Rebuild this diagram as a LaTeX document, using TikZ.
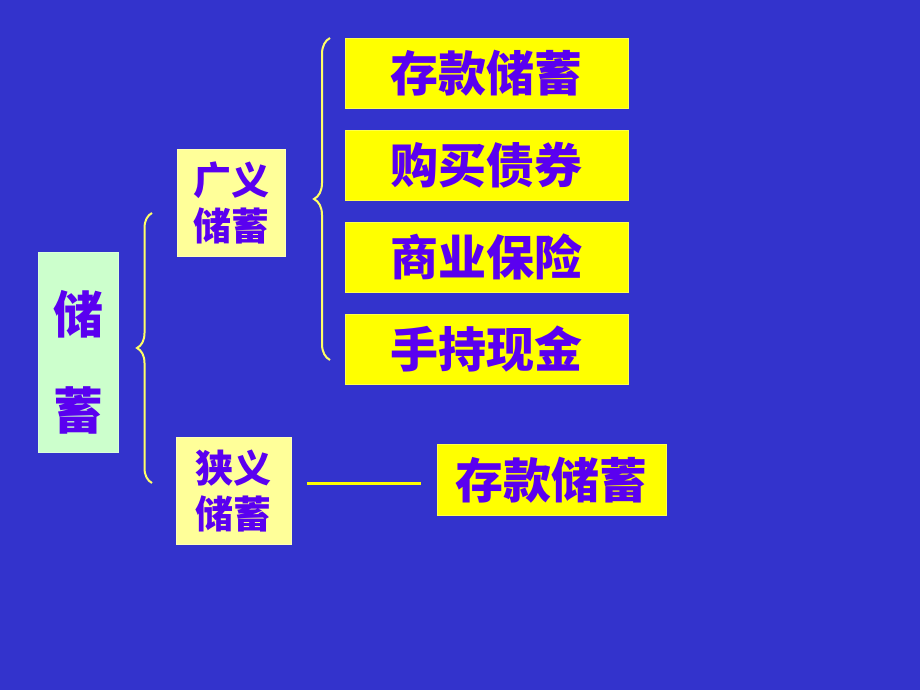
\documentclass[tikz,border=0pt]{standalone}
\usepackage{fontspec}
\newfontfamily\cjk{Noto Sans CJK SC}[BoldFont={* Black}]
\usetikzlibrary{decorations.pathreplacing}
\definecolor{bg}{HTML}{3333CC}
\definecolor{ink}{HTML}{5A00F0}
\definecolor{yel}{HTML}{FFFF00}
\definecolor{paleyel}{HTML}{FFFF99}
\definecolor{palegreen}{HTML}{CCFFCC}
\definecolor{brc}{HTML}{FFFF66}
\begin{document}
\begin{tikzpicture}[x=1pt,y=-1pt,
  box/.style={draw=#1!70!white, line width=0.6pt, fill=#1, text=ink, font=\cjk\bfseries, inner sep=0pt, anchor=north west},
  itembox/.style={box=yel, font=\cjk\bfseries\fontsize{48}{50}\selectfont},
  subbox/.style={box=paleyel, font=\cjk\bfseries\fontsize{38}{46}\selectfont, align=center},
  bigchar/.style={text=ink, font=\cjk\bfseries\fontsize{50}{52}\selectfont},
  bracestyle/.style={draw=brc, line width=2pt, decorate, decoration={brace, amplitude=#1}}]
\fill[bg] (0,0) rectangle (920,690);
\useasboundingbox (0,0) rectangle (920,690);
% main box
\node[box=palegreen, minimum width=80, minimum height=200] (main) at (38,252) {};
\node[bigchar] (m1) at (78,314) {储};
\node[bigchar] (m2) at (78,410) {蓄};
% sub boxes
\node[subbox, minimum width=108, minimum height=107] (wide) at (177,149) {广义\\储蓄};
\node[subbox, minimum width=115, minimum height=107] (narrow) at (176,437) {狭义\\储蓄};
% items
\node[itembox, minimum width=283, minimum height=70] (i1) at (345,38) {存款储蓄};
\node[itembox, minimum width=283, minimum height=70] (i2) at (345,130) {购买债券};
\node[itembox, minimum width=283, minimum height=70] (i3) at (345,222) {商业保险};
\node[itembox, minimum width=283, minimum height=70] (i4) at (345,314) {手持现金};
\node[itembox, minimum width=229, minimum height=71] (i5) at (437,444) {存款储蓄};
% braces
\coordinate (b1top) at (152,213);
\coordinate (b1bot) at (152,483);
\coordinate (b2top) at (330,38);
\coordinate (b2bot) at (330,360);
\draw[bracestyle=15pt] (b1bot) -- (b1top);
\draw[bracestyle=16pt] (b2bot) -- (b2top);
% line
\coordinate (l1) at (307,483);
\coordinate (l2) at (421,483);
\draw[yel, line width=3pt] (l1) -- (l2);
\end{tikzpicture}
\end{document}
